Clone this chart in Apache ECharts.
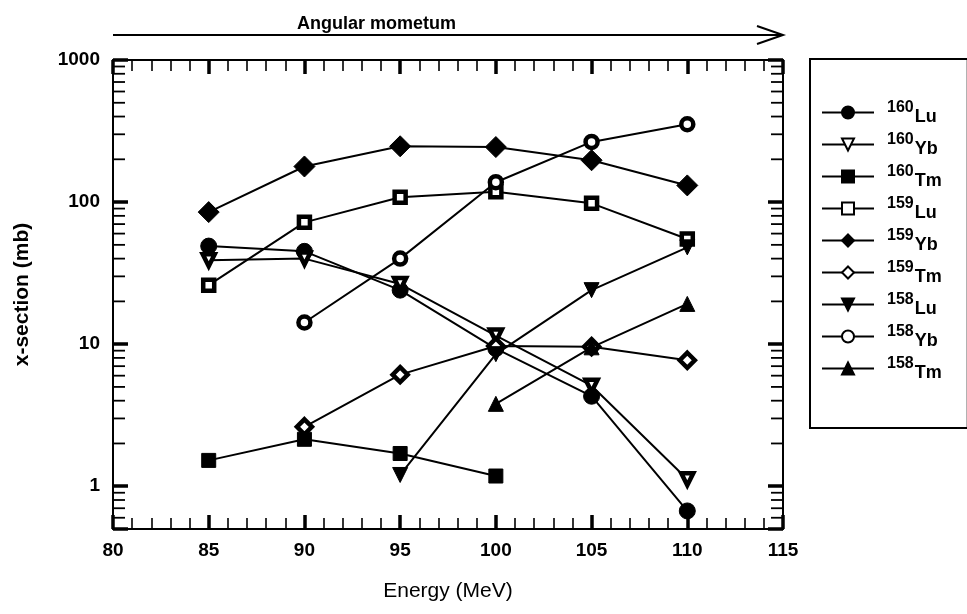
<!DOCTYPE html>
<html><head><meta charset="utf-8">
<script src="https://cdn.jsdelivr.net/npm/echarts@6/dist/echarts.min.js"></script>
<style>html,body{margin:0;padding:0;background:#fff}#c{width:967px;height:614px}</style>
</head><body><div id="c"></div>
<script>
// ---- data ----
const energies = [85, 90, 95, 100, 105, 110];
const lu160 = [49, 45, 24, 9.3, 4.3, 0.67];
const yb160 = [39, 40, 26.5, 11.5, 5.1, 1.12];
const tm160 = [1.52, 2.14, 1.7, 1.18, null, null];
const lu159 = [26, 72, 108, 118, 98, 55];
const yb159 = [85, 178, 247, 244, 197, 131];
const tm159 = [null, 2.62, 6.1, 9.7, 9.6, 7.7];
const lu158 = [null, null, 1.2, 8.5, 24, 48];
const yb158 = [null, 14.2, 40, 138, 265, 353];
const tm158 = [null, null, null, 3.8, 9.5, 19.2];
const massNumbers = ['160', '160', '160', '159', '159', '159', '158', '158', '158'];
const elements = ['Lu', 'Yb', 'Tm', 'Lu', 'Yb', 'Tm', 'Lu', 'Yb', 'Tm'];
const xMin = 80, xMax = 115, xStep = 5;
const yMin = 0.5, yMax = 1000;
const yLabelValues = [1, 10, 100, 1000];
const yMinorTicks = [0.6, 0.7, 0.8, 0.9, 2, 3, 4, 5, 6, 7, 8, 9, 20, 30, 40, 50, 60, 70, 80, 90, 200, 300, 400, 500, 600, 700, 800, 900];
const titleText = 'Angular mometum';
const xName = 'Energy (MeV)';
const yName = 'x-section (mb)';

const values = [lu160, yb160, tm160, lu159, yb159, tm159, lu158, yb158, tm158];
const symbols = ['circle', 'triangle', 'rect', 'rect', 'diamond', 'diamond', 'triangle', 'circle', 'triangle'];
const rotations = [0, 180, 0, 0, 0, 0, 180, 0, 0];
const sizes = [16, 12, 14, 11, 21, 15, 15, 12, 15];
const open = [false, true, false, true, false, true, false, true, false];

const names = massNumbers.map((m, i) => m + elements[i]);

const chart = echarts.init(document.getElementById('c'), null, {renderer: 'canvas'});
const F = 'Liberation Sans, Arial, sans-serif';

const lineSeries = names.map((n, i) => ({
  name: n,
  type: 'line',
  xAxisIndex: 0, yAxisIndex: 0,
  data: energies.map((e, k) => [e, values[i][k]]).filter(p => p[1] !== null),
  symbol: symbols[i],
  symbolRotate: rotations[i],
  symbolSize: sizes[i],
  showAllSymbol: true,
  lineStyle: {color: '#000', width: 2},
  itemStyle: open[i]
    ? {color: '#fff', borderColor: '#000', borderWidth: 4.5}
    : {color: '#000', borderColor: '#000', borderWidth: 1},
  emphasis: {disabled: true},
  z: 3
}));

const tickSeries = {
  name: 'minorTicks',
  type: 'custom',
  xAxisIndex: 0, yAxisIndex: 0,
  clip: false,
  silent: true,
  z: 1,
  data: yMinorTicks.map(v => [xMin, v]),
  renderItem: function (params, api) {
    const v = api.value(1);
    const pL = api.coord([xMin, v]);
    const pR = api.coord([xMax, v]);
    return {type: 'group', children: [
      {type: 'line', shape: {x1: pL[0], y1: pL[1], x2: pL[0] + 12, y2: pL[1]}, style: {stroke: '#000', lineWidth: 1.8}},
      {type: 'line', shape: {x1: pR[0], y1: pR[1], x2: pR[0] - 12, y2: pR[1]}, style: {stroke: '#000', lineWidth: 1.8}}
    ]};
  }
};

const xAxisBase = {
  type: 'value', min: xMin, max: xMax, interval: xStep,
  axisLine: {show: true, onZero: false, lineStyle: {color: '#000', width: 2}},
  axisTick: {show: true, inside: true, length: 14, lineStyle: {color: '#000', width: 3.5}},
  minorTick: {show: true, splitNumber: 5, length: 11, lineStyle: {color: '#000', width: 1.6}},
  splitLine: {show: false}, minorSplitLine: {show: false}
};
const yAxisBase = {
  type: 'log', logBase: 10, min: yMin, max: yMax,
  axisLine: {show: true, onZero: false, lineStyle: {color: '#000', width: 2}},
  axisTick: {show: true, inside: true, length: 15, lineStyle: {color: '#000', width: 3.5}},
  splitLine: {show: false}
};

chart.setOption({
  animation: false,
  backgroundColor: '#fff',
  grid: {left: 113, right: 184, top: 60, bottom: 85, containLabel: false},
  xAxis: [
    Object.assign({}, xAxisBase, {
      position: 'bottom',
      name: xName, nameLocation: 'middle', nameGap: 52,
      nameTextStyle: {fontFamily: F, fontSize: 21, color: '#000'},
      axisLabel: {show: true, margin: 12, fontFamily: F, fontWeight: 'bold', fontSize: 19, color: '#000'}
    }),
    Object.assign({}, xAxisBase, {position: 'top', axisLabel: {show: false}})
  ],
  yAxis: [
    Object.assign({}, yAxisBase, {
      position: 'left',
      name: yName, nameLocation: 'middle', nameGap: 80,
      nameTextStyle: {fontFamily: F, fontWeight: 'bold', fontSize: 21, color: '#000'},
      axisLabel: {show: true, margin: 13, fontFamily: F, fontWeight: 'bold', fontSize: 19, color: '#000',
        formatter: v => (yLabelValues.some(t => Math.abs(t - v) < 1e-6 * t) ? String(Math.round(v)) : '')}
    }),
    Object.assign({}, yAxisBase, {position: 'right', axisLabel: {show: false}})
  ],
  title: {
    text: titleText, left: 292, top: 10,
    textStyle: {fontFamily: F, fontWeight: 'bold', fontSize: 18, color: '#000'}
  },
  legend: {
    data: names,
    orient: 'vertical',
    left: 810, top: 59,
    itemWidth: 52, itemHeight: 15, itemGap: 5,
    padding: [40, 26, 46, 11],
    borderColor: '#000', borderWidth: 2, backgroundColor: '#fff',
    selectedMode: false,
    formatter: n => '{sup|' + n.slice(0, 3) + '}{sub|' + n.slice(3) + '}',
    textStyle: {
      color: '#000', fontFamily: F, fontWeight: 'bold',
      rich: {
        sup: {fontFamily: F, fontWeight: 'bold', fontSize: 16, lineHeight: 15, padding: [0, 0, 10, 8], color: '#000'},
        sub: {fontFamily: F, fontWeight: 'bold', fontSize: 18, lineHeight: 16, padding: [9, 0, 0, 1], color: '#000'}
      }
    }
  },
  graphic: [
    {type: 'line', shape: {x1: 113, y1: 35, x2: 783, y2: 35}, style: {stroke: '#000', lineWidth: 2}},
    {type: 'polyline', shape: {points: [[757, 26], [783, 35], [757, 44]]}, style: {stroke: '#000', lineWidth: 2, fill: null}}
  ],
  series: lineSeries.concat([tickSeries])
});
</script></body></html>
